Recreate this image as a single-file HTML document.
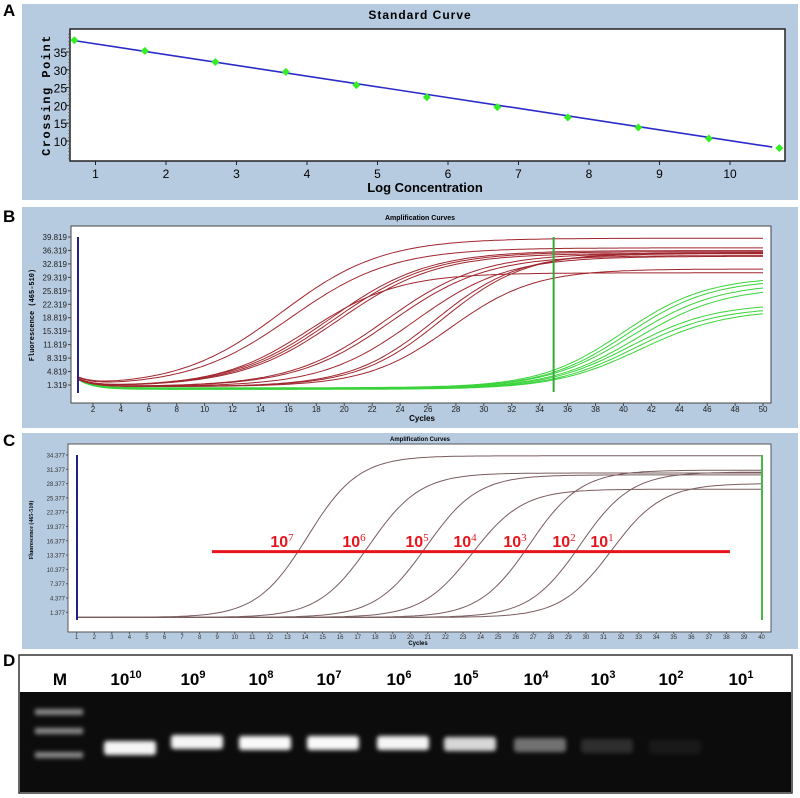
<!DOCTYPE html>
<html><head><meta charset="utf-8"><style>
html,body{margin:0;padding:0;background:#fff;}
svg{display:block;font-family:"Liberation Sans",sans-serif;}
</style></head><body>
<svg id="fig" width="800" height="798" viewBox="0 0 800 798" xmlns="http://www.w3.org/2000/svg">
<!-- Panel A -->
<g>
<text x="3" y="16" font-size="17" font-weight="bold">A</text>
<rect x="22" y="4" width="776" height="196" fill="#b7cbe0"/>
<text x="420" y="19" font-size="12" font-weight="bold" text-anchor="middle" letter-spacing="1">Standard Curve</text>
<rect x="70" y="29" width="715" height="132" fill="#fff" stroke="#222" stroke-width="1.5"/>
<text transform="translate(50,95) rotate(-90)" font-size="12" font-weight="bold" text-anchor="middle" letter-spacing="1.5" font-family="Liberation Mono, monospace">Crossing Point</text>
<text x="425" y="192" font-size="13" font-weight="bold" text-anchor="middle">Log Concentration</text>
<g id="a-axes"></g><g id="a-marks"></g>
</g>
<!-- Panel B -->
<g>
<text x="3" y="222" font-size="17" font-weight="bold">B</text>
<rect x="22" y="207" width="776" height="221" fill="#b7cbe0"/>
<text x="420" y="220" font-size="7" font-weight="bold" text-anchor="middle">Amplification Curves</text>
<rect x="71" y="226" width="700" height="177" fill="#fff" stroke="#444" stroke-width="1"/>
<text transform="translate(34,315) rotate(-90)" font-size="7" font-weight="bold" text-anchor="middle" font-family="Liberation Mono, monospace">Fluorescence (465-510)</text>
<text x="422" y="421" font-size="8" font-weight="bold" text-anchor="middle">Cycles</text>
<g id="b-axes"></g><g id="b-marks"></g>
</g>
<!-- Panel C -->
<g>
<text x="3" y="446" font-size="17" font-weight="bold">C</text>
<rect x="22" y="433" width="776" height="216" fill="#b7cbe0"/>
<text x="420" y="441" font-size="6" font-weight="bold" text-anchor="middle">Amplification Curves</text>
<rect x="68" y="444" width="703" height="188" fill="#fff" stroke="#555" stroke-width="1"/>
<text transform="translate(33,530) rotate(-90)" font-size="6" font-weight="bold" text-anchor="middle" font-family="Liberation Serif, serif">Fluorescence (465-510)</text>
<text x="418" y="645" font-size="6" font-weight="bold" text-anchor="middle">Cycles</text>
<g id="c-axes"></g><g id="c-marks"></g>
</g>
<!-- Panel D -->
<g>
<text x="3" y="666" font-size="17" font-weight="bold">D</text>
<rect x="19" y="655" width="773" height="138" fill="#fff" stroke="#333" stroke-width="1.5"/>
<rect x="20" y="692" width="771" height="100" fill="#0c0c0c"/>
<g id="d-marks"></g>
</g>
<defs>
<filter id="glow" x="-30%" y="-80%" width="160%" height="260%"><feGaussianBlur stdDeviation="2.2"/></filter>
</defs>
</svg>
<script>
// ---------- Panel A data ----------
const aLogConc = [0.7,1.7,2.7,3.7,4.7,5.7,6.7,7.7,8.7,9.7,10.7];
const aCrossing = [38.3,35.3,32.2,29.4,25.7,22.3,19.5,16.6,13.8,10.7,8.0];
const aXTicks = [1,2,3,4,5,6,7,8,9,10];
const aYTicks = [10,15,20,25,30,35];
const aFitLine = [[0.7,38.2],[10.6,8.3]];
// ---------- Panel B data ----------
const bYTicks = ["1.319","4.819","8.319","11.819","15.319","18.819","22.319","25.819","29.319","32.819","36.319","39.819"];
const bXTicks = [2,4,6,8,10,12,14,16,18,20,22,24,26,28,30,32,34,36,38,40,42,44,46,48,50];
const bRedMid = [15.5,16.2,19.0,19.3,19.6,17.5,23.0,23.4,26.5,27.0,27.6,25.0];
const bRedPlateau = [39.5,37.0,36.3,36.0,35.6,30.5,35.6,35.0,35.5,35.8,31.5,34.8];
const bRedSlope = [3.6,3.6,3.5,3.5,3.5,3.2,3.4,3.4,3.0,3.0,3.0,3.3];
const bGreenMid = [40.0,40.3,40.6,41.0,40.5,40.8,41.2];
const bGreenPlateau = [29.5,28.8,27.8,26.8,22.5,21.6,21.0];
const bGreenSlope = [3.0,3.0,3.1,3.1,3.0,3.0,3.1];
const bThresholdCycle = 35;
// ---------- Panel C data ----------
const cYTicks = ["1.377","4.377","7.377","10.377","13.377","16.377","19.377","22.377","25.377","28.377","31.377","34.377"];
const cXTicks = [1,2,3,4,5,6,7,8,9,10,11,12,13,14,15,16,17,18,19,20,21,22,23,24,25,26,27,28,29,30,31,32,33,34,35,36,37,38,39,40];
const cLabels = ["7","6","5","4","3","2","1"];
const cCrossing = [13.6,17.4,20.7,23.6,26.5,29.4,31.4];
const cPlateau = [34.2,30.6,30.2,27.2,31.2,30.8,28.4];
const cLabelX = [282,354,417,465,515,564,602];
const cThreshold = 14.1;
const cThresholdRange = [8.7,38.2];
// ---------- Panel D data ----------
const dLanes = ["10","9","8","7","6","5","4","3","2","1"];
const dLaneCenter = [130,197,265,333,403,470,540,607,675,745];
const dBandIntensity = [0.95,0.95,0.97,0.97,0.95,0.85,0.55,0.25,0.1,0.0];
const dBandCenterY = [748,742,743,743,743,744,745,746,747,747];
const dMarkerY = [712,731,755];

const NS="http://www.w3.org/2000/svg";
function mk(tag,attrs,parent){const e=document.createElementNS(NS,tag);for(const k in attrs)e.setAttribute(k,attrs[k]);parent.appendChild(e);return e;}

// ---- A ----
const ax=v=>95.5+(v-1)*70.5, ay=v=>141-(v-10)*3.56;
const aAx=document.getElementById('a-axes'), aM=document.getElementById('a-marks');
aXTicks.forEach(t=>{
 const l=mk('line',{x1:ax(t),x2:ax(t),y1:161,y2:165,stroke:'#222'},aAx);
 
 
 const tx=mk('text',{x:ax(t),y:178,'font-size':12,'text-anchor':'middle'},aAx);tx.textContent=t;
 
 
});
aYTicks.forEach(t=>{
 const l=mk('line',{x1:66,x2:70,y1:ay(t),y2:ay(t),stroke:'#222'},aAx);
 
 
 const tx=mk('text',{x:67,y:ay(t)+5,'font-size':12,'text-anchor':'end'},aAx);tx.textContent=t;
 
 
});
for(let v=5;v<=40;v++){const l=mk('line',{x1:68,x2:70,y1:ay(v),y2:ay(v),stroke:'#555','stroke-width':0.6},aAx);
 
 }
const fit=mk('line',{x1:ax(aFitLine[0][0]),y1:ay(aFitLine[0][1]),x2:ax(aFitLine[1][0]),y2:ay(aFitLine[1][1]),stroke:'#2b2bc8','stroke-width':1.6},aM);


aLogConc.forEach((c,i)=>{
 const x=ax(c),y=ay(aCrossing[i]);
 const p=mk('polygon',{points:`${x},${y-4} ${x+4},${y} ${x},${y+4} ${x-4},${y}`,fill:'#33ee22'},aM);
 
 
});

// ---- B ----
const bx=c=>79+(c-1)*13.96, by=v=>385-(v-1.319)*3.844;
const bAx=document.getElementById('b-axes'), bM=document.getElementById('b-marks');
bXTicks.forEach(t=>{
 const l=mk('line',{x1:bx(t),x2:bx(t),y1:403,y2:406,stroke:'#444'},bAx);
 
 
 const tx=mk('text',{x:bx(t),y:412,'font-size':8,'text-anchor':'middle',fill:'#222'},bAx);tx.textContent=t;
 
 
});
bYTicks.forEach(t=>{
 const y=by(parseFloat(t));
 const l=mk('line',{x1:68,x2:71,y1:y,y2:y,stroke:'#444'},bAx);
 
 
 const tx=mk('text',{x:67,y:y+3,'font-size':8,'text-anchor':'end',fill:'#222'},bAx);tx.textContent=t;
 
 
});
function curve(mid,plat,k,base,start,c){return base+(plat-base)/(1+Math.exp(-(c-mid)/k))+(start-base)*Math.exp(-(c-1)/1.1);}
function pathB(mid,plat,k,base,start){let d='';for(let c=1;c<=50.001;c+=0.25){d+=(d?'L':'M')+bx(c).toFixed(1)+','+by(curve(mid,plat,k,base,start,c)).toFixed(1);}return d;}
bGreenMid.forEach((m,i)=>{
 const p=mk('path',{d:pathB(m,bGreenPlateau[i],bGreenSlope[i],0.6-i*0.07,2.6),fill:'none',stroke:'#3ad33a','stroke-width':1},bM);
 
 
});
bRedMid.forEach((m,i)=>{
 const p=mk('path',{d:pathB(m,bRedPlateau[i],bRedSlope[i],0.9,2.7),fill:'none',stroke:'#a0262e','stroke-width':1},bM);
 
 
});
const bl=mk('line',{x1:78,x2:78,y1:237,y2:393,stroke:'#222288','stroke-width':2},bM);


const gl=mk('line',{x1:bx(bThresholdCycle),x2:bx(bThresholdCycle),y1:237,y2:392,stroke:'#33aa33','stroke-width':2},bM);



// ---- C ----
const cx=c=>76.7+(c-1)*17.56, cy=v=>612.3-(v-1.377)*4.767;
const cAx=document.getElementById('c-axes'), cM=document.getElementById('c-marks');
cXTicks.forEach(t=>{
 const l=mk('line',{x1:cx(t),x2:cx(t),y1:632,y2:634,stroke:'#555'},cAx);
 
 
 const tx=mk('text',{x:cx(t),y:639,'font-size':6,'text-anchor':'middle',fill:'#333'},cAx);tx.textContent=t;
 
 
});
cYTicks.forEach(t=>{
 const y=cy(parseFloat(t));
 const l=mk('line',{x1:66,x2:68,y1:y,y2:y,stroke:'#555'},cAx);
 
 
 const tx=mk('text',{x:65,y:y+2.5,'font-size':6,'text-anchor':'end',fill:'#333'},cAx);tx.textContent=t;
 
 
});
cCrossing.forEach((cr,i)=>{
 const plat=cPlateau[i], base=0.3, k=1.45;
 // choose midpoint so curve passes threshold at crossing cycle
 const frac=(cThreshold-base)/(plat-base);
 const mid=cr+k*Math.log(1/frac-1);
 let d='';for(let c=1;c<=40.001;c+=0.25){d+=(d?'L':'M')+cx(c).toFixed(1)+','+cy(base+(plat-base)/(1+Math.exp(-(c-mid)/k))).toFixed(1);}
 const p=mk('path',{d:d,fill:'none',stroke:'#7a5c5e','stroke-width':1},cM);
 
 
});
const cb=mk('line',{x1:77,x2:77,y1:455,y2:620,stroke:'#222288','stroke-width':2},cM);


const cg=mk('line',{x1:762,x2:762,y1:455,y2:620,stroke:'#44bb44','stroke-width':2},cM);


const th=mk('line',{x1:cx(cThresholdRange[0]),x2:cx(cThresholdRange[1]),y1:cy(cThreshold),y2:cy(cThreshold),stroke:'#e8141c','stroke-width':3},cM);


cLabels.forEach((e,i)=>{
 const t=mk('text',{x:cLabelX[i],y:547,'font-size':16,'font-weight':'bold',fill:'#e8141c','text-anchor':'middle'},cM);
 
 
 t.appendChild(document.createTextNode('10'));
 const s=mk('tspan',{dy:-6,'font-size':11,'font-weight':'normal','font-family':'Liberation Serif, serif'},t);s.textContent=e;
});

// ---- D ----
const dM=document.getElementById('d-marks');
const mL=mk('text',{x:60,y:685,'font-size':17,'font-weight':'bold','text-anchor':'middle'},dM);mL.textContent='M';


dMarkerY.forEach(y=>{
 const r=mk('rect',{x:35,y:y-3,width:48,height:6,fill:'#8a8a8a',filter:'url(#glow)'},dM);
 
 
});
dLanes.forEach((e,i)=>{
 const t=mk('text',{x:dLaneCenter[i]-4,y:685,'font-size':17,'font-weight':'bold','text-anchor':'middle'},dM);
 
 
 t.appendChild(document.createTextNode('10'));
 const s=mk('tspan',{dy:-7,'font-size':11},t);s.textContent=e;
 const a=dBandIntensity[i];
 if(a>0){
  const g=Math.round(60+195*a);
  const r=mk('rect',{x:dLaneCenter[i]-26,y:dBandCenterY[i]-7,width:52,height:14,rx:3,fill:`rgb(${g},${g},${g})`,opacity:Math.min(1,a+0.1),filter:'url(#glow)'},dM);
  
  
 }
});
</script>
</body></html>
